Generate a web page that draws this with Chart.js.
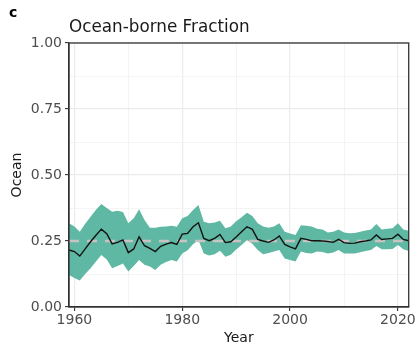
<!DOCTYPE html>
<html>
<head>
<meta charset="utf-8">
<script src="https://cdn.jsdelivr.net/npm/chart.js@4"></script>
<style>
  html, body { margin: 0; padding: 0; background: #fff; }
  #wrap { width: 417px; height: 347px; }
</style>
</head>
<body>
<div id="wrap"><canvas id="c" width="417" height="347"></canvas></div>
<script>
// Annual ocean-borne fraction, central estimate and uncertainty band
const years = [];
for (let y = 1959; y <= 2022; y++) years.push(y);

const central = [
  0.216, 0.210, 0.193, 0.220, 0.247, 0.272, 0.295, 0.278, 0.239, 0.245,
  0.254, 0.206, 0.220, 0.266, 0.232, 0.222, 0.210, 0.230, 0.238, 0.244,
  0.237, 0.276, 0.279, 0.304, 0.319, 0.260, 0.251, 0.260, 0.275, 0.244,
  0.247, 0.265, 0.285, 0.304, 0.294, 0.256, 0.250, 0.245, 0.254, 0.269,
  0.237, 0.228, 0.220, 0.260, 0.256, 0.251, 0.251, 0.250, 0.248, 0.245,
  0.256, 0.244, 0.241, 0.242, 0.247, 0.250, 0.254, 0.273, 0.256, 0.258,
  0.260, 0.276, 0.256, 0.251
];
const upper = [
  0.317, 0.305, 0.285, 0.315, 0.342, 0.368, 0.390, 0.375, 0.361, 0.365,
  0.360, 0.317, 0.336, 0.370, 0.330, 0.300, 0.300, 0.304, 0.305, 0.308,
  0.304, 0.336, 0.345, 0.367, 0.386, 0.323, 0.317, 0.320, 0.327, 0.298,
  0.305, 0.325, 0.340, 0.357, 0.345, 0.317, 0.305, 0.300, 0.305, 0.317,
  0.285, 0.278, 0.273, 0.310, 0.308, 0.305, 0.296, 0.294, 0.282, 0.285,
  0.294, 0.282, 0.279, 0.280, 0.285, 0.290, 0.294, 0.314, 0.294, 0.296,
  0.298, 0.317, 0.294, 0.289
];
const lower = [
  0.121, 0.110, 0.100, 0.125, 0.147, 0.172, 0.197, 0.180, 0.147, 0.155,
  0.165, 0.134, 0.155, 0.178, 0.160, 0.153, 0.140, 0.160, 0.170, 0.178,
  0.172, 0.203, 0.215, 0.238, 0.254, 0.203, 0.195, 0.200, 0.213, 0.190,
  0.198, 0.218, 0.235, 0.254, 0.240, 0.216, 0.200, 0.205, 0.210, 0.216,
  0.184, 0.178, 0.172, 0.210, 0.205, 0.203, 0.210, 0.208, 0.203, 0.206,
  0.216, 0.203, 0.203, 0.203, 0.207, 0.212, 0.216, 0.231, 0.219, 0.219,
  0.220, 0.235, 0.219, 0.212
];
const referenceLevel = 0.25;

// Axis ticks: labelled (major) and unlabelled (minor) positions
const xMajorTicks = [1960, 1980, 2000, 2020];
const xMinorTicks = [1970, 1990, 2010];
const yMajorTicks = [0, 0.25, 0.5, 0.75, 1];
const yMinorTicks = [0.125, 0.375, 0.625, 0.875];

const panelLabel = 'c';
const chartTitle = 'Ocean-borne Fraction';
const xTitle = 'Year';
const yTitle = 'Ocean';

const FONT = '"DejaVu Sans", sans-serif';
const TEXT = '#4d4d4d';

const toPoints = arr => years.map((x, i) => ({ x, y: arr[i] }));
const isMajor = (list, v) => list.some(m => Math.abs(m - v) < 1e-9);

const headerPlugin = {
  id: 'header',
  afterDraw(chart) {
    const { ctx, chartArea } = chart;
    ctx.save();
    ctx.fillStyle = '#000';
    ctx.textBaseline = 'alphabetic';
    ctx.textAlign = 'left';
    ctx.font = 'bold 14px ' + FONT;
    ctx.fillText(panelLabel, 9, 17);
    ctx.fillStyle = '#1a1a1a';
    ctx.font = '16.8px ' + FONT;
    ctx.fillText(chartTitle, chartArea.left, 32);
    // panel border
    ctx.strokeStyle = '#333';
    ctx.lineWidth = 1.3;
    ctx.strokeRect(chartArea.left, chartArea.top, chartArea.right - chartArea.left, chartArea.bottom - chartArea.top);
    ctx.restore();
  }
};

new Chart(document.getElementById('c'), {
  type: 'line',
  data: {
    datasets: [
      {
        label: 'central',
        order: 0,
        data: toPoints(central),
        borderColor: '#111',
        borderWidth: 1.4,
        pointRadius: 0,
        fill: false,
        tension: 0
      },
      {
        label: 'reference',
        order: 1,
        data: [{ x: years[0], y: referenceLevel }, { x: years[years.length - 1], y: referenceLevel }],
        borderColor: '#c9c3c3',
        borderWidth: 2.6,
        borderDash: [10, 8],
        pointRadius: 0,
        fill: false
      },
      {
        label: 'lower',
        order: 2,
        data: toPoints(lower),
        borderColor: 'rgba(0,0,0,0)',
        borderWidth: 0,
        pointRadius: 0,
        fill: false
      },
      {
        label: 'upper',
        order: 3,
        data: toPoints(upper),
        borderColor: 'rgba(0,0,0,0)',
        borderWidth: 0,
        pointRadius: 0,
        backgroundColor: '#5fb8a3',
        fill: '-1'
      }
    ]
  },
  options: {
    responsive: false,
    animation: false,
    layout: { padding: { top: 43, right: 8, left: 0, bottom: 0 } },
    plugins: {
      legend: { display: false },
      tooltip: { enabled: false }
    },
    scales: {
      x: {
        type: 'linear',
        min: 1959,
        max: 2022,
        afterBuildTicks(scale) {
          scale.ticks = [...xMajorTicks, ...xMinorTicks].sort((a, b) => a - b).map(v => ({ value: v }));
        },
        afterFit(scale) { scale.height = 40; },
        ticks: {
          color: TEXT,
          font: { family: FONT, size: 14 },
          padding: 1,
          maxRotation: 0,
          autoSkip: false,
          callback: v => isMajor(xMajorTicks, v) ? String(v) : ''
        },
        grid: {
          color: ctx => isMajor(xMajorTicks, ctx.tick.value) ? '#ebebeb' : '#f3f3f3',
          lineWidth: ctx => isMajor(xMajorTicks, ctx.tick.value) ? 1.2 : 0.9,
          tickColor: ctx => isMajor(xMajorTicks, ctx.tick.value) ? '#333' : 'rgba(0,0,0,0)',
          tickLength: 4,
          tickWidth: 1.1,
          drawOnChartArea: true
        },
        border: { display: true, color: '#333', width: 1.3 },
        title: {
          display: true,
          text: xTitle,
          color: '#1a1a1a',
          font: { family: FONT, size: 14 },
          padding: { top: 0, bottom: 0 }
        }
      },
      y: {
        min: 0,
        max: 1,
        afterBuildTicks(scale) {
          scale.ticks = [...yMajorTicks, ...yMinorTicks].sort((a, b) => a - b).map(v => ({ value: v }));
        },
        afterFit(scale) { scale.width = 69; },
        ticks: {
          color: TEXT,
          font: { family: FONT, size: 14 },
          padding: 3,
          autoSkip: false,
          callback: v => isMajor(yMajorTicks, v) ? v.toFixed(2) : ''
        },
        grid: {
          color: ctx => isMajor(yMajorTicks, ctx.tick.value) ? '#ebebeb' : '#f3f3f3',
          lineWidth: ctx => isMajor(yMajorTicks, ctx.tick.value) ? 1.2 : 0.9,
          tickColor: ctx => isMajor(yMajorTicks, ctx.tick.value) ? '#333' : 'rgba(0,0,0,0)',
          tickLength: 4,
          tickWidth: 1.1
        },
        border: { display: true, color: '#333', width: 1.3 },
        title: {
          display: true,
          text: yTitle,
          color: '#1a1a1a',
          font: { family: FONT, size: 14 },
          padding: { top: 9, bottom: 0 }
        }
      }
    }
  },
  plugins: [headerPlugin]
});
</script>
</body>
</html>
